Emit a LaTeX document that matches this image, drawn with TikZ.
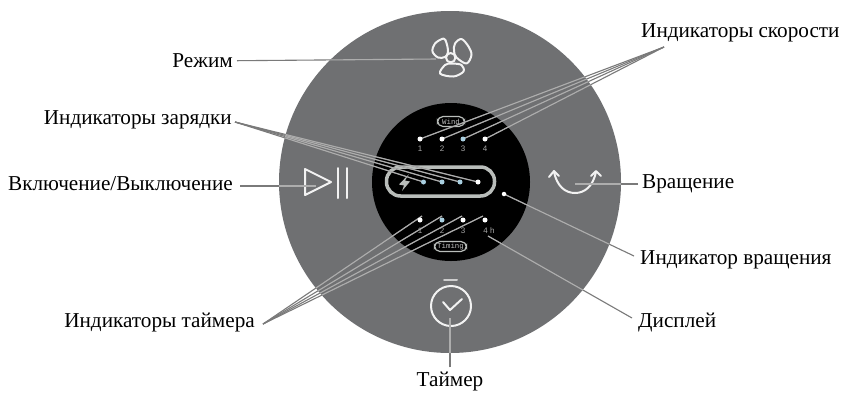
\documentclass[tikz,border=0pt]{standalone}
\usepackage{fontspec}
\setmainfont{Liberation Serif}
\newfontfamily\tinymono{Liberation Mono}
\newfontfamily\tinysans{Liberation Sans}
\definecolor{discgray}{HTML}{6F7072}
\definecolor{pillgray}{HTML}{B9BDBA}
\definecolor{ledblue}{HTML}{A9CFE0}
\definecolor{iconwhite}{HTML}{F2F2F2}
\colorlet{leadcol}{black!52}
\newcommand{\leaderlines}{%
	\foreach \a/\b in {rezhim/fanEnd, skorostA/wind1, skorostA/wind2, skorostA/wind3, skorostA/wind4,
		zaryadA/chg1, zaryadA/chg2, zaryadA/chg3, zaryadA/chg4, vklyuchA/playEnd, vrashch/turnEnd,
		indvrA/turnLed, displA/displEnd, tmrA/tmrEnd1, tmrA/tmrEnd2, tmrA/tmrEnd3, tmrA/tmrEnd4,
		taimer/clockEnd}
		\draw[leader] (\a) -- (\b);
}
\begin{document}
\begin{tikzpicture}[x=1pt,y=-1pt]
\tikzset{
	leader/.style={draw=leadcol, line width=1.1pt},
	lbl/.style={font=\fontsize{21.2}{24}\selectfont, inner sep=4pt},
	led/.style={circle, fill=white, minimum size=5pt, inner sep=0pt},
	blueled/.style={led, fill=ledblue},
	digit/.style={font=\tinysans\fontsize{8}{9}\selectfont, text=black!35, inner sep=0pt},
	icon/.style={draw=iconwhite, line width=2pt, line cap=round, line join=round},
	pill/.style={draw=pillgray, rounded corners=5.5pt, line width=1.2pt, inner sep=0pt,
		font=\tinymono\fontsize{7.4}{8}\selectfont, text=black!25}
}
\useasboundingbox (0,0) rectangle (843,392);
\fill[white] (0,0) rectangle (843,392);
\fill[discgray] (450,182) circle (171);
\fill[black] (451,182) circle (79);

% icons
\draw[icon] plot[smooth cycle, tension=.55] coordinates {(438,57.5) (432.5,51.5) (435,43.5) (443.5,38.5) (446.5,43) (448,52) (445,57)};
\draw[icon] plot[smooth cycle, tension=.55] coordinates {(454,51) (455,43.5) (461.5,39) (468.5,46.5) (471.5,55) (466.5,63.5) (456.5,57.5)};
\draw[icon] plot[smooth cycle, tension=.55] coordinates {(453.5,63.5) (461.5,65) (463.5,71.5) (453.5,76.5) (440,73.5) (445,65) (450.5,63.5)};
\draw[icon] (450.7,57.7) circle (4.7);
\draw[icon] (305,169) -- (331,182) -- (305,195) -- cycle;
\draw[icon] (338,168) -- (338,198) (347,168) -- (347,198);
\draw[icon] (554,172) .. controls (557,186) and (565,193) .. (575,193) .. controls (585,193) and (593,186) .. (596,172);
\draw[icon] (549,177) -- (554,171) -- (559,176) (591,176) -- (596,171) -- (601,176);
\draw[icon] (451,306) circle (20);
\draw[icon] (443,302) -- (450,310) -- (462,299);
\draw[icon, draw=iconwhite!85!black] (444,280) -- (457,280);
\draw[draw=pillgray, line width=3.5pt, rounded corners=14pt] (386.5,167) rectangle (494.5,196);
\fill[pillgray] (409,174) -- (399,184.5) -- (404,185.5) -- (402,191) -- (410,181.5) -- (405,180.5) -- cycle;

% display
\node[pill, minimum width=27pt, minimum height=10pt] (windPill) at (451,121.5) {Wind};
\node[pill, minimum width=32pt, minimum height=10pt] (timingPill) at (450.5,246.5) {Timing};
\foreach \i/\x in {1/420, 2/442, 3/463, 4/485}{
	\node[digit] (windNum\i) at (\x,149) {\i};
	\coordinate (wind\i) at (\x,139);
}
\foreach \i/\x in {1/423.5, 2/442, 3/460, 4/478}
	\coordinate (chg\i) at (\x,182);
\foreach \i/\x in {1/420, 2/442, 3/463}
	\node[digit] (tmrNum\i) at (\x,231) {\i};
\node[digit] (tmrNum4) at (489,231) {4 h};
\foreach \i/\x in {1/422, 2/442, 3/462, 4/483}
	\coordinate (tmrEnd\i) at (\x,216);

% labels
\node[lbl, anchor=east] (rezhim) at (237,61) {Режим};
\node[lbl, anchor=west] (skorost) at (637,32.5) {Индикаторы скорости};
\node[lbl, anchor=east] (zaryad) at (236,119.5) {Индикаторы зарядки};
\node[lbl, anchor=east] (vklyuch) at (237,184) {Включение/Выключение};
\node[lbl, anchor=west] (vrashch) at (638,184) {Вращение};
\node[lbl, anchor=west] (indvr) at (636,260) {Индикатор вращения};
\node[lbl, anchor=west] (displ) at (634,322) {Дисплей};
\node[lbl, anchor=east] (tmr) at (259,322) {Индикаторы таймера};
\node[lbl] (taimer) at (450,381) {Таймер};

\coordinate (skorostA) at (664,47);
\coordinate (zaryadA) at (235,122);
\coordinate (vklyuchA) at (240,186);
\coordinate (indvrA) at (634,256);
\coordinate (displA) at (632,318);
\coordinate (tmrA) at (263,324);
\coordinate (fanEnd) at (436,59);
\coordinate (playEnd) at (316,186);
\coordinate (turnEnd) at (575,184);
\coordinate (turnLed) at (504,194);
\coordinate (displEnd) at (488,236);
\coordinate (clockEnd) at (450,318);

% connectors, darker on the white ground
\leaderlines
\begin{scope}
	\clip (450,182) circle (171);
	\colorlet{leadcol}{black!32}
	\leaderlines
\end{scope}

% leds
\foreach \i/\x/\sty in {1/420/led, 2/442/led, 3/463/blueled, 4/485/led}
	\node[\sty] (windLed\i) at (\x,139) {};
\foreach \i/\x/\sty in {1/423.5/blueled, 2/442/blueled, 3/460/blueled, 4/478/led}
	\node[\sty] (chgLed\i) at (\x,182) {};
\foreach \i/\x/\sty in {1/420/led, 2/442/blueled, 3/463/led, 4/485/led}
	\node[\sty] (tmrLed\i) at (\x,220) {};
\node[led, minimum size=4.5pt] (turnDot) at (504,194) {};
\end{tikzpicture}
\end{document}
